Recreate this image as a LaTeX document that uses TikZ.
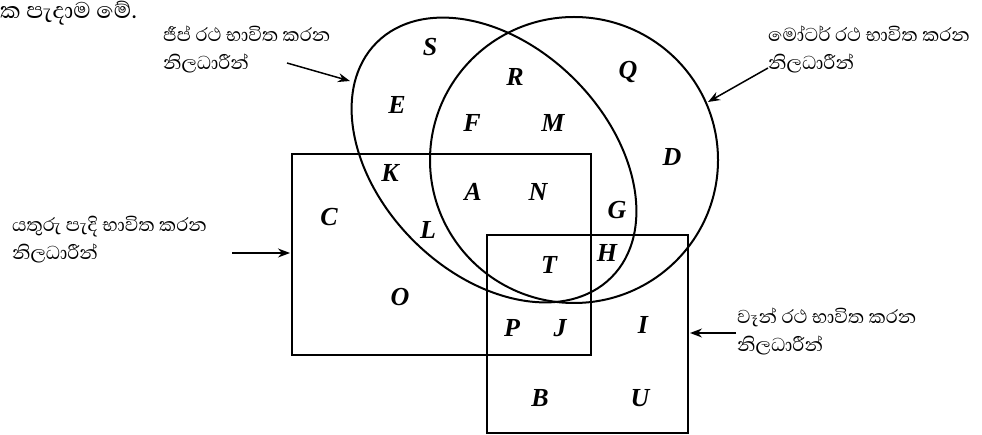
\documentclass[tikz,border=0pt]{standalone}
\usepackage{fontspec}
\setmainfont{Liberation Serif}
\newfontfamily\sinhalafont[Script=Sinhala]{Abhaya Libre}
\usetikzlibrary{arrows.meta}
\begin{document}
\begin{tikzpicture}[x=1pt,y=-1pt,
  lbl/.style={font=\fontsize{26}{30}\selectfont\bfseries\itshape, inner sep=0pt},
  note/.style={font=\sinhalafont\fontsize{24}{28}\selectfont, align=left, inner sep=0pt, anchor=north west},
  fragnote/.style={font=\sinhalafont\fontsize{29}{32}\selectfont, inner sep=0pt, anchor=north west},
  setline/.style={line width=2pt},
  boxline/.style={line width=1.5pt},
  pointer/.style={line width=1.5pt, -{Stealth[length=12pt,width=9pt]}}]
\useasboundingbox (0,0) rectangle (982,435);
% sets
\draw[setline, rotate around={-45:(494,160)}] (494,160) ellipse [x radius=166pt, y radius=114pt];
\draw[setline] (574,160) ellipse [x radius=144pt, y radius=143pt];
\draw[boxline] (292,154) rectangle (591,355);
\draw[boxline] (487,235) rectangle (688,433);
% letters
\node[lbl] (S) at (430,47) {S};
\node[lbl] (R) at (515,77) {R};
\node[lbl] (Q) at (628,72) {Q};
\node[lbl] (E) at (397,105) {E};
\node[lbl] (F) at (472,123) {F};
\node[lbl] (M) at (553,123) {M};
\node[lbl] (D) at (672,157) {D};
\node[lbl] (K) at (390,173) {K};
\node[lbl] (A) at (473,192) {A};
\node[lbl] (N) at (538,192) {N};
\node[lbl] (G) at (617,210) {G};
\node[lbl] (C) at (329,217) {C};
\node[lbl] (L) at (428,230) {L};
\node[lbl] (H) at (607,253) {H};
\node[lbl] (T) at (549,265) {T};
\node[lbl] (O) at (400,297) {O};
\node[lbl] (P) at (512,328) {P};
\node[lbl] (J) at (560,328) {J};
\node[lbl] (I) at (643,325) {I};
\node[lbl] (B) at (540,398) {B};
\node[lbl] (U) at (640,398) {U};
% notes
\node[fragnote] (frag) at (0,1) {ක පැදාම මේ.};
\node[note] (jeepnote) at (163,26) {ජීප් රථ භාවිත කරන\\නිලධාරීන්};
\node[note] (motornote) at (768,26) {මෝටර් රථ භාවිත කරන\\නිලධාරීන්};
\node[note] (cyclenote) at (12,216) {යතුරු පැදි භාවිත කරන\\නිලධාරීන්};
\node[note] (vannote) at (737,308) {වෑන් රථ භාවිත කරන\\නිලධාරීන්};
% pointers
\coordinate (jeeptail) at (287,63);
\coordinate (jeeptip) at (350,81);
\coordinate (motortail) at (768,68);
\coordinate (motortip) at (708,102);
\coordinate (cycletail) at (232,253);
\coordinate (cycletip) at (290,253);
\coordinate (vantail) at (736,333);
\coordinate (vantip) at (690,333);
\draw[pointer] (jeeptail) -- (jeeptip);
\draw[pointer] (motortail) -- (motortip);
\draw[pointer] (cycletail) -- (cycletip);
\draw[pointer] (vantail) -- (vantip);
\end{tikzpicture}
\end{document}
